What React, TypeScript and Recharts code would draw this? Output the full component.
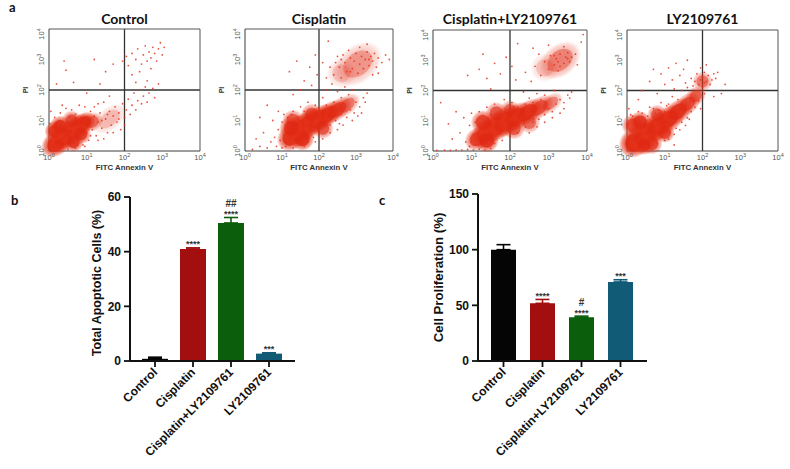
import React from 'react';
import {
  ScatterChart, Scatter, XAxis, YAxis, ReferenceLine,
  ComposedChart, Bar, Cell, ErrorBar, Line, LabelList,
} from 'recharts';

// ---------- Panel a: flow cytometry (values are log10 of FITC Annexin V / PI intensity) ----------
const decadeTicks = [0, 1, 2, 3, 4];
const flowTitles = ['Control', 'Cisplatin', 'Cisplatin+LY2109761', 'LY2109761'];

// dense populations: [log10 FITC, log10 PI, spread (decades), relative density, elongation along diagonal]
const controlClusters = [
  [0.22, 0.28, 0.3, 1, 1.2], [0.45, 0.5, 0.32, 1, 1.3], [0.7, 0.72, 0.3, 1, 1.3], [0.9, 0.9, 0.24, 0.9, 1.2],
  [0.15, 0.65, 0.2, 0.85, 1], [0.65, 0.3, 0.2, 0.8, 1], [1.15, 0.95, 0.2, 0.5, 1.1], [1.6, 1.05, 0.3, 0.2, 1.3],
  [0.3, 0.8, 0.22, 0.85, 1], [0.85, 0.55, 0.2, 0.75, 1], [0.6, 1.0, 0.2, 0.65, 1],
];
const cisplatinClusters = [
  [1.25, 0.45, 0.28, 0.9, 1.1], [1.5, 0.7, 0.34, 1, 1.2], [1.75, 0.9, 0.32, 1, 1.2], [2.0, 1.05, 0.3, 0.95, 1.25],
  [2.25, 1.2, 0.28, 0.85, 1.3], [2.5, 1.35, 0.26, 0.65, 1.3], [2.75, 1.5, 0.24, 0.45, 1.3], [1.3, 1.0, 0.22, 0.6, 1],
  [1.55, 0.4, 0.24, 0.85, 1], [1.25, 0.75, 0.24, 0.8, 1], [2.1, 0.75, 0.22, 0.6, 1], [1.8, 1.2, 0.22, 0.6, 1],
  [3.05, 2.85, 0.45, 0.32, 1.2], [2.6, 2.55, 0.3, 0.18, 1],
];
const comboClusters = [
  [1.15, 0.4, 0.24, 0.75, 1.1], [1.4, 0.6, 0.3, 0.95, 1.2], [1.65, 0.82, 0.33, 1, 1.2], [1.9, 0.98, 0.32, 1, 1.2],
  [2.15, 1.12, 0.3, 0.95, 1.25], [2.45, 1.27, 0.28, 0.8, 1.3], [2.75, 1.42, 0.26, 0.6, 1.3], [3.05, 1.57, 0.22, 0.4, 1.3],
  [1.65, 1.25, 0.22, 0.6, 1], [1.4, 0.35, 0.24, 0.8, 1], [1.3, 0.95, 0.24, 0.75, 1], [2.1, 0.75, 0.22, 0.6, 1],
  [2.5, 0.95, 0.22, 0.5, 1], [2.0, 1.35, 0.2, 0.5, 1], [3.3, 3.0, 0.38, 0.4, 1.2], [2.9, 2.75, 0.28, 0.18, 1],
];
const lyClusters = [
  [0.22, 0.3, 0.32, 1, 1.1], [0.5, 0.55, 0.34, 1, 1.2], [0.8, 0.8, 0.32, 1, 1.2], [1.1, 1.05, 0.3, 0.9, 1.2],
  [1.35, 1.3, 0.27, 0.8, 1.2], [1.6, 1.55, 0.24, 0.65, 1.2], [1.82, 1.82, 0.2, 0.55, 1.1], [2.0, 2.3, 0.2, 0.45, 1],
  [0.15, 0.85, 0.22, 0.7, 1], [0.65, 0.25, 0.22, 0.7, 1], [0.45, 0.2, 0.2, 0.8, 1], [0.35, 0.95, 0.22, 0.8, 1],
  [1.0, 0.6, 0.2, 0.7, 1], [0.8, 1.2, 0.2, 0.6, 1],
];

// individual events: [log10 FITC, log10 PI]
const controlEvents = [
  [0.05, 1.3], [0.15, 1.1], [0.3, 1.25], [0.45, 1.4], [0.6, 1.35], [0.8, 1.5], [0.95, 1.45], [1.1, 1.3],
  [1.2, 1.15], [1.15, 0.7], [1.25, 0.5], [1.05, 0.35], [0.9, 0.2], [0.7, 0.1], [0.5, 0.05], [0.35, 0.1],
  [1.3, 0.95], [1.35, 1.25], [1.4, 0.75], [1.5, 1.05], [1.55, 0.6], [1.6, 1.3], [1.65, 0.85], [1.7, 1.15],
  [1.75, 1.45], [1.8, 0.95], [1.85, 1.25], [1.9, 0.7], [1.95, 1.55], [2.0, 1.1], [2.05, 1.35], [2.1, 1.7],
  [2.15, 1.2], [2.2, 1.5], [2.25, 1.9], [2.3, 1.35], [2.35, 1.65], [2.4, 2.0], [2.45, 1.55], [2.5, 1.8],
  [2.55, 2.1], [2.6, 1.6], [2.65, 1.9], [2.75, 2.05], [2.8, 1.75], [2.9, 2.2], [1.45, 1.6], [1.6, 1.8],
  [1.3, 1.55], [2.3, 2.25], [2.6, 2.3], [1.95, 2.95], [2.05, 3.1], [2.1, 2.8], [2.2, 3.2], [2.3, 3.0],
  [2.35, 3.35], [2.45, 2.85], [2.5, 3.15], [2.55, 3.45], [2.6, 2.95], [2.65, 3.25], [2.7, 3.05], [2.75, 3.4],
  [2.8, 3.2], [2.85, 2.95], [2.9, 3.35], [2.95, 3.55], [3.0, 3.15], [3.05, 3.4], [2.4, 2.6], [2.7, 2.7],
  [2.2, 2.5], [0.4, 2.95], [0.45, 2.65], [0.65, 2.25], [1.2, 3.0], [1.5, 2.6], [1.7, 2.85], [1.35, 2.2],
  [1.0, 1.9], [0.2, 2.2], [0.02, 0.9], [0.1, 0.05], [0.25, 0.85], [0.55, 1.1], [0.7, 1.2], [0.85, 1.1],
  [1.0, 0.6], [1.05, 1.1], [1.1, 0.5], [0.95, 0.15], [0.75, 0.35], [1.3, 0.35], [1.45, 0.4], [1.2, 1.45],
  [0.35, 1.5], [1.4, 1.0], [1.55, 1.2], [1.7, 0.6], [1.85, 1.05], [2.0, 0.85],
];
const cisplatinEvents = [
  [0.2, 0.05], [0.4, 0.15], [0.6, 0.1], [0.7, 0.3], [0.8, 0.45], [0.85, 0.15], [0.9, 0.7], [0.95, 0.35],
  [1.0, 0.95], [0.75, 1.0], [0.5, 0.6], [0.3, 0.4], [0.9, 1.3], [1.05, 1.2], [0.6, 1.5], [0.4, 1.1],
  [1.1, 0.15], [1.3, 0.1], [1.5, 0.2], [1.7, 0.3], [1.85, 0.45], [2.0, 0.55], [1.15, 1.1], [1.3, 1.3],
  [1.5, 1.45], [1.7, 1.6], [1.9, 1.5], [2.1, 1.75], [2.3, 0.85], [2.45, 1.0], [2.55, 0.9], [2.6, 1.2],
  [2.75, 1.1], [2.85, 1.35], [2.95, 1.25], [3.0, 1.6], [3.1, 1.45], [3.2, 1.75], [3.25, 1.6], [3.3, 1.9],
  [2.4, 1.6], [2.6, 1.75], [2.8, 1.85], [2.5, 1.95], [2.7, 2.1], [2.9, 2.0], [2.2, 2.0], [2.35, 2.2],
  [2.4, 2.5], [2.55, 2.75], [2.6, 2.4], [2.7, 2.9], [2.75, 2.6], [2.85, 3.05], [2.9, 2.7], [2.95, 2.95],
  [3.0, 3.2], [3.05, 2.55], [3.1, 2.85], [3.15, 3.1], [3.2, 2.7], [3.25, 3.0], [3.3, 3.25], [3.35, 2.8],
  [3.4, 3.1], [3.45, 2.95], [3.5, 3.2], [3.55, 2.75], [3.6, 3.05], [3.7, 2.9], [3.8, 3.15], [3.9, 3.0],
  [2.65, 3.15], [2.8, 3.3], [3.1, 3.4], [3.3, 3.5], [2.5, 3.1], [3.45, 2.5], [3.6, 2.55], [2.2, 2.4],
  [2.3, 2.75], [1.2, 2.6], [1.4, 2.95], [1.6, 2.3], [1.75, 2.75], [1.9, 3.15], [1.5, 2.0], [1.3, 1.85],
  [1.95, 2.5], [2.1, 2.9], [1.8, 2.15], [2.25, 3.6], [1.0, 0.1], [1.05, 0.5], [1.1, 0.75], [1.2, 0.85],
  [1.25, 1.2], [1.45, 1.1], [1.6, 1.3], [1.8, 1.25], [2.0, 1.4], [2.2, 1.5], [2.4, 1.4], [1.6, 0.15],
  [1.9, 0.3], [2.1, 0.4], [2.3, 0.6], [2.5, 0.7], [2.65, 0.85], [2.9, 1.0], [3.05, 1.15], [3.15, 1.25],
  [2.45, 2.9], [2.6, 3.0], [2.85, 2.6], [3.35, 3.0],
];
const comboEvents = [
  [0.1, 0.02], [0.3, 0.03], [0.45, 0.02], [0.6, 0.04], [0.75, 0.03], [0.9, 0.05], [1.05, 0.03], [1.2, 0.06],
  [1.35, 0.04], [1.5, 0.08], [0.5, 0.4], [0.7, 0.6], [0.85, 0.3], [0.95, 0.85], [0.8, 1.1], [0.6, 1.3],
  [0.4, 0.9], [1.0, 1.25], [1.1, 0.95], [0.2, 1.6], [1.6, 0.25], [1.8, 0.35], [2.0, 0.5], [2.2, 0.6],
  [1.2, 1.3], [1.4, 1.45], [1.6, 1.55], [1.85, 1.7], [2.05, 1.6], [2.4, 0.8], [2.6, 0.95], [2.75, 1.05],
  [2.9, 1.2], [3.0, 1.4], [3.1, 1.3], [3.2, 1.55], [3.3, 1.7], [3.4, 1.6], [3.5, 1.85], [3.55, 1.75],
  [3.6, 1.95], [2.5, 1.75], [2.7, 1.9], [2.9, 1.85], [3.15, 2.0], [2.35, 1.95], [2.4, 2.6], [2.55, 2.3],
  [2.65, 2.8], [2.8, 2.5], [2.9, 2.95], [3.0, 2.7], [3.05, 3.15], [3.15, 2.85], [3.2, 3.05], [3.25, 2.65],
  [3.3, 3.2], [3.4, 2.9], [3.45, 3.1], [3.5, 3.25], [3.55, 2.95], [3.6, 3.1], [3.7, 3.2], [3.75, 2.85],
  [2.75, 3.2], [2.6, 3.4], [3.0, 3.5], [3.85, 3.6], [3.9, 3.85], [3.4, 3.45], [1.2, 2.7], [1.4, 2.4],
  [1.6, 2.9], [1.75, 2.55], [1.9, 3.1], [2.05, 2.8], [2.15, 2.35], [1.5, 2.05], [1.3, 3.2], [0.9, 2.5],
  [2.2, 3.55], [0.95, 0.15], [1.1, 0.2], [1.3, 0.2], [1.45, 0.3], [1.2, 0.85], [1.3, 1.05], [1.5, 1.2],
  [1.95, 1.35], [2.2, 1.45], [2.4, 1.55], [2.6, 1.6], [2.8, 1.7], [2.5, 0.6], [2.7, 0.8], [2.9, 0.95],
  [3.1, 1.1], [3.3, 1.25], [3.4, 1.4], [3.15, 3.15], [3.3, 2.8], [3.5, 3.05], [3.25, 2.95],
];
const lyEvents = [
  [0.05, 1.4], [0.15, 1.15], [0.3, 1.3], [0.45, 1.05], [0.6, 1.45], [0.75, 1.25], [0.9, 1.6], [1.05, 1.5],
  [1.2, 1.8], [1.35, 1.7], [1.45, 2.0], [0.6, 0.1], [0.8, 0.25], [1.0, 0.35], [1.15, 0.6], [1.3, 0.75],
  [1.45, 0.95], [1.6, 1.1], [1.7, 1.3], [1.8, 1.45], [1.9, 1.65], [2.05, 1.9], [0.4, 0.05], [1.25, 0.2],
  [1.6, 2.1], [1.7, 2.4], [1.75, 2.15], [1.85, 2.55], [1.9, 2.2], [2.0, 2.45], [2.05, 2.6], [2.1, 2.3],
  [2.15, 2.5], [2.25, 2.35], [2.3, 2.55], [2.2, 2.2], [1.95, 2.75], [2.1, 2.85], [2.35, 2.4], [2.4, 2.6],
  [1.8, 2.3], [2.0, 2.1], [0.4, 2.0], [0.6, 2.3], [0.8, 1.9], [0.9, 2.55], [1.0, 2.2], [1.1, 2.75],
  [1.2, 2.35], [1.3, 2.9], [1.4, 2.5], [1.5, 2.7], [1.6, 3.0], [0.3, 1.7], [0.7, 2.7], [1.25, 2.05],
  [1.55, 2.25], [2.5, 1.9], [2.6, 2.2], [2.3, 1.8], [0.02, 0.5], [0.05, 0.9], [0.1, 1.2], [0.25, 1.0],
  [0.4, 1.25], [0.55, 1.15], [0.7, 1.4], [0.85, 1.35], [1.0, 1.3], [1.1, 1.55], [0.3, 0.02], [0.5, 0.15],
  [0.7, 0.2], [0.9, 0.45], [1.1, 0.4], [1.25, 0.55], [1.4, 0.7], [1.55, 0.85], [1.65, 1.05], [1.95, 1.4],
  [1.95, 2.35], [2.05, 2.25],
];

// ---------- Panels b and c: bar charts ----------
const groups = ['Control', 'Cisplatin', 'Cisplatin+LY2109761', 'LY2109761'];
const groupColors = ['#050505', '#a30f0f', '#0b5e0c', '#125b76'];
const apoptosisMean = [0.8, 41.0, 50.5, 2.7];
const apoptosisErr = [0.6, 0.4, 2.0, 0.3];
const apoptosisStars = ['', '****', '****', '***'];
const apoptosisHash = ['', '', '##', ''];
const apoptosisTicks = [0, 20, 40, 60];
const prolifMean = [100, 51.8, 39.3, 71.0];
const prolifErr = [4.5, 3.5, 1.0, 2.0];
const prolifStars = ['', '****', '****', '***'];
const prolifHash = ['', '', '#', ''];
const prolifTicks = [0, 50, 100, 150];

const SANS = '"Liberation Sans", Arial, sans-serif';
const TITLE = 'Lato, "Open Sans", sans-serif';

const DecadeTickX = (p: any) => (
  <text x={p.x} y={p.y + 9} textAnchor="middle" fill="#555" fontSize={7.5} fontFamily={SANS}>
    <tspan>10</tspan>
    <tspan dy={-3.5} fontSize={5.5}>{p.payload.value}</tspan>
  </text>
);
const DecadeTickY = (p: any) => {
  const bx = p.x - 5;
  return (
    <text x={bx} y={p.y} transform={`rotate(-90 ${bx} ${p.y})`} textAnchor="middle" fill="#555" fontSize={7.5} fontFamily={SANS}>
      <tspan>10</tspan>
      <tspan dy={-3.5} fontSize={5.5}>{p.payload.value}</tspan>
    </text>
  );
};

type FlowProps = { left: number; top: number; w: number; h: number; title: string; clusters: number[][]; events: number[][] };

function FlowPanel({ left, top, w, h, title, clusters, events }: FlowProps) {
  const YW = 32, MT = 4, MR = 12, XH = 26;
  const pxX = w / 4, pxY = h / 4;
  const ang = (-Math.atan2(pxY, pxX) * 180) / Math.PI;
  const k = Math.hypot(pxX, pxY) * 1.05;
  const clusterRows = clusters.map(([x, y, s, d, e]) => ({ x, y, s, d, e }));
  const eventRows = events.map(([x, y]) => ({ x, y }));
  const blob = (p: any) => {
    if (p.cx == null) return <g />;
    const { s, d, e } = p.payload;
    const along = s * k * e;
    const across = (s * k) / e;
    return (
      <g transform={`rotate(${ang} ${p.cx} ${p.cy})`}>
        <ellipse cx={p.cx} cy={p.cy} rx={along} ry={across} fill="url(#flowBlob)" opacity={d} />
        <ellipse cx={p.cx} cy={p.cy} rx={along * 0.6} ry={across * 0.6} fill="#e02a14" opacity={d * 0.85} />
      </g>
    );
  };
  const dot = (p: any) =>
    p.cx == null ? <g /> : <circle cx={p.cx} cy={p.cy} r={0.9} fill="#e3361d" fillOpacity={0.85} />;
  return (
    <div style={{ position: 'absolute', left: left - YW, top: top - MT }}>
      <div
        style={{
          position: 'absolute', left: YW - 40, width: w + 80, top: 12 - (top - MT), textAlign: 'center',
          fontFamily: TITLE, fontWeight: 700, fontSize: 14, lineHeight: '14px', color: '#111', whiteSpace: 'nowrap',
        }}
      >
        {title}
      </div>
      <ScatterChart width={YW + w + MR} height={MT + h + XH} margin={{ top: MT, right: MR, bottom: 0, left: 0 }}>
        <XAxis
          type="number" dataKey="x" domain={[0, 4]} ticks={decadeTicks} tick={DecadeTickX}
          tickLine={false} tickSize={0} tickMargin={0} height={XH} axisLine={{ stroke: '#3c3c3c' }}
          label={(lp: any) => (
            <text x={lp.viewBox.x + lp.viewBox.width / 2} y={lp.viewBox.y + 18.5} textAnchor="middle"
              fontFamily={SANS} fontWeight={700} fontSize={7.8} fill="#333">FITC Annexin V</text>
          )}
        />
        <YAxis
          type="number" dataKey="y" domain={[0, 4]} ticks={decadeTicks} tick={DecadeTickY}
          tickLine={false} tickSize={0} tickMargin={0} width={YW} axisLine={{ stroke: '#3c3c3c' }}
          label={(lp: any) => {
            const lx = lp.viewBox.x + 11;
            const ly = lp.viewBox.y + lp.viewBox.height / 2;
            return (
              <text x={lx} y={ly} transform={`rotate(-90 ${lx} ${ly})`} textAnchor="middle"
                fontFamily={SANS} fontWeight={700} fontSize={7} fill="#333">PI</text>
            );
          }}
        />
        <Scatter data={clusterRows} shape={blob} isAnimationActive={false} />
        <Scatter data={eventRows} shape={dot} isAnimationActive={false} />
        <ReferenceLine x={2} stroke="#333" strokeWidth={1.3} />
        <ReferenceLine y={2} stroke="#333" strokeWidth={1.3} />
        <ReferenceLine x={4} stroke="#555" strokeWidth={1} />
        <ReferenceLine y={4} stroke="#555" strokeWidth={1} />
      </ScatterChart>
    </div>
  );
}

const CatTick = (p: any) => {
  const ax = p.x + 3, ay = p.y + 4;
  return (
    <text x={ax} y={ay} transform={`rotate(-45 ${ax} ${ay})`} textAnchor="end" fontFamily={SANS}
      fontWeight={700} fontSize={12} fill="#111">{p.payload.value}</text>
  );
};

type BarProps = {
  left: number; top: number; width: number; height: number;
  margin: { top: number; right: number; bottom: number; left: number };
  yAxisWidth: number; values: number[]; errors: number[]; stars: string[]; hashes: string[];
  yTicks: number[]; yLabel: string; yLabelX: number; yLabelShift: number; labelSize: number;
  barSize: number; padding: { left: number; right: number };
};

function BarPanel(props: BarProps) {
  const { left, top, width, height, margin, yAxisWidth, values, errors, stars, hashes, yTicks, yLabel,
    yLabelX, yLabelShift, labelSize, barSize, padding } = props;
  const rows = groups.map((g, i) => ({
    g, i, v: values[i], e: errors[i], top: values[i] + errors[i], star: stars[i], hash: hashes[i],
  }));
  const starLabel = (lp: any) =>
    lp.value ? (
      <text x={lp.x} y={lp.y - 0.5} textAnchor="middle" fontFamily={SANS} fontWeight={700} fontSize={9} fill="#333">{lp.value}</text>
    ) : <g />;
  const hashLabel = (lp: any) =>
    lp.value ? (
      <text x={lp.x} y={lp.y - 10.5} textAnchor="middle" fontFamily={SANS} fontWeight={700} fontSize={10} fill="#333">{lp.value}</text>
    ) : <g />;
  return (
    <div style={{ position: 'absolute', left, top }}>
      <ComposedChart width={width} height={height} data={rows} margin={margin}>
        <XAxis
          dataKey="g" type="category" interval={0} tick={CatTick} height={100} padding={padding}
          tickSize={6} tickLine={{ stroke: '#111', strokeWidth: 1.8 }} axisLine={{ stroke: '#111', strokeWidth: 2 }}
        />
        <YAxis
          type="number" domain={[0, yTicks[yTicks.length - 1]]} ticks={yTicks} width={yAxisWidth} interval={0}
          tick={{ fill: '#111', fontSize: 12, fontWeight: 700, fontFamily: SANS }} tickSize={6} tickMargin={3}
          tickLine={{ stroke: '#111', strokeWidth: 1.8 }} axisLine={{ stroke: '#111', strokeWidth: 2 }}
          label={(lp: any) => {
            const ly = lp.viewBox.y + lp.viewBox.height / 2 + yLabelShift;
            return (
              <text x={yLabelX} y={ly} transform={`rotate(-90 ${yLabelX} ${ly})`} textAnchor="middle"
                dominantBaseline="central" fontFamily={SANS} fontWeight={700} fontSize={labelSize} fill="#111">{yLabel}</text>
            );
          }}
        />
        <Bar dataKey="v" barSize={barSize} isAnimationActive={false}>
          {rows.map((r) => <Cell key={r.g} fill={groupColors[r.i]} />)}
          {groupColors.map((c, k) => (
            <ErrorBar key={k} dataKey={(d: any) => (d.i === k ? [0, d.e] : undefined)} stroke={c} strokeWidth={1.6} width={7} direction="y" />
          ))}
        </Bar>
        <Line dataKey="top" stroke="none" dot={false} activeDot={false} isAnimationActive={false} legendType="none">
          <LabelList dataKey="star" content={starLabel} />
          <LabelList dataKey="hash" content={hashLabel} />
        </Line>
      </ComposedChart>
    </div>
  );
}

export default function App() {
  const panelLetter = (t: string, x: number, y: number) => (
    <div style={{ position: 'absolute', left: x, top: y, fontFamily: TITLE, fontWeight: 700, fontSize: 13, lineHeight: '13px', color: '#111' }}>{t}</div>
  );
  return (
    <div style={{ position: 'absolute', left: 0, top: 0, width: 790, height: 469, background: '#fff', overflow: 'hidden' }}>
      <svg width={0} height={0} style={{ position: 'absolute' }}>
        <defs>
          <radialGradient id="flowBlob">
            <stop offset="0%" stopColor="#e02a14" stopOpacity={1} />
            <stop offset="50%" stopColor="#e02a14" stopOpacity={0.92} />
            <stop offset="80%" stopColor="#e5351b" stopOpacity={0.5} />
            <stop offset="100%" stopColor="#e8401f" stopOpacity={0} />
          </radialGradient>
        </defs>
      </svg>
      {panelLetter('a', 9, 1)}
      {panelLetter('b', 11, 194)}
      {panelLetter('c', 379, 194)}
      <FlowPanel left={49} top={29} w={151} h={122} title={flowTitles[0]} clusters={controlClusters} events={controlEvents} />
      <FlowPanel left={245} top={29} w={148} h={122} title={flowTitles[1]} clusters={cisplatinClusters} events={cisplatinEvents} />
      <FlowPanel left={433} top={30} w={154} h={121} title={flowTitles[2]} clusters={comboClusters} events={comboEvents} />
      <FlowPanel left={627} top={30} w={151} h={121} title={flowTitles[3]} clusters={lyClusters} events={lyEvents} />
      <BarPanel
        left={0} top={180} width={320} height={289} margin={{ top: 17, right: 25, bottom: 8, left: 50 }}
        yAxisWidth={80} values={apoptosisMean} errors={apoptosisErr} stars={apoptosisStars} hashes={apoptosisHash}
        yTicks={apoptosisTicks} yLabel="Total Apoptotic Cells (%)" yLabelX={97} yLabelShift={4} labelSize={12.5}
        barSize={26} padding={{ left: 6, right: 7 }}
      />
      <BarPanel
        left={380} top={180} width={290} height={289} margin={{ top: 14, right: 23, bottom: 8, left: 40 }}
        yAxisWidth={58} values={prolifMean} errors={prolifErr} stars={prolifStars} hashes={prolifHash}
        yTicks={prolifTicks} yLabel="Cell Proliferation (%)" yLabelX={58} yLabelShift={0} labelSize={13.2}
        barSize={25} padding={{ left: 6, right: 7 }}
      />
    </div>
  );
}
